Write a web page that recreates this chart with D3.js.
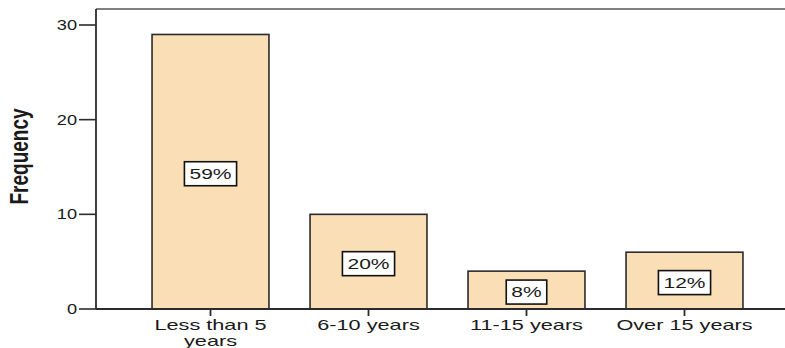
<!DOCTYPE html>
<html>
<head>
<meta charset="utf-8">
<script src="https://cdn.jsdelivr.net/npm/d3@7"></script>
<style>
  html, body { margin: 0; padding: 0; background: #fff; }
  svg { display: block; }
  text { font-family: "Liberation Sans", Arial, sans-serif; fill: #1a1a1a; }
</style>
</head>
<body>
<svg id="chart" width="785" height="348"></svg>
<script>
// ---- data ----
const categories = ["Less than 5 years", "6-10 years", "11-15 years", "Over 15 years"];
const categoryLines = [["Less than 5", "years"], ["6-10 years"], ["11-15 years"], ["Over 15 years"]];
const frequencies = [29, 10, 4, 6];
const percentLabels = ["59%", "20%", "8%", "12%"];
const yTicks = [0, 10, 20, 30];
const yTitle = "Frequency";

// ---- layout ----
const W = 785, H = 348;
const plotLeft = 96, plotRight = 785, plotTop = 9, plotBottom = 309;
const svg = d3.select("#chart");

const x = d3.scaleBand()
  .domain(categories)
  .range([131.5, 763.5])
  .paddingInner(0.26)
  .paddingOuter(0.13);

const y = d3.scaleLinear().domain([0, 30]).range([plotBottom, 25]);

const stroke = "#2b2b2b";
const stretch = 1.55;

// frame lines (top + left)
svg.append("line").attr("x1", plotLeft).attr("x2", plotRight).attr("y1", plotTop).attr("y2", plotTop)
  .attr("stroke", "#555").attr("stroke-width", 1.6);
svg.append("line").attr("x1", plotLeft).attr("x2", plotLeft).attr("y1", plotTop).attr("y2", plotBottom)
  .attr("stroke", stroke).attr("stroke-width", 1.8);

// bars
const data = categories.map((c, i) => ({ c, v: frequencies[i], p: percentLabels[i], lines: categoryLines[i] }));

svg.append("g").selectAll("rect").data(data).join("rect")
  .attr("x", d => x(d.c))
  .attr("y", d => y(d.v))
  .attr("width", x.bandwidth())
  .attr("height", d => y(0) - y(d.v))
  .attr("fill", "#f9deb6")
  .attr("stroke", stroke)
  .attr("stroke-width", 1.6);

// bottom axis line
svg.append("line").attr("x1", plotLeft).attr("x2", plotRight).attr("y1", plotBottom).attr("y2", plotBottom)
  .attr("stroke", stroke).attr("stroke-width", 1.8);

// y ticks
const yg = svg.append("g");
yg.selectAll("line").data(yTicks).join("line")
  .attr("x1", 79).attr("x2", plotLeft)
  .attr("y1", d => y(d)).attr("y2", d => y(d))
  .attr("stroke", stroke).attr("stroke-width", 1.6);
yg.selectAll("text").data(yTicks).join("text")
  .attr("transform", d => `translate(77,${y(d) + 5}) scale(1.3,1)`)
  .attr("text-anchor", "end")
  .attr("font-size", 14)
  .text(d => d);

// x ticks and labels
const xg = svg.append("g");
xg.selectAll("line").data(data).join("line")
  .attr("x1", d => x(d.c) + x.bandwidth() / 2).attr("x2", d => x(d.c) + x.bandwidth() / 2)
  .attr("y1", plotBottom).attr("y2", plotBottom + 7)
  .attr("stroke", stroke).attr("stroke-width", 1.8);
data.forEach(d => {
  const cx = x(d.c) + x.bandwidth() / 2;
  d.lines.forEach((ln, j) => {
    xg.append("text")
      .attr("transform", `translate(${cx},${330 + j * 16}) scale(${stretch},1)`)
      .attr("text-anchor", "middle")
      .attr("font-size", 14)
      .text(ln);
  });
});

// percent label boxes
const lg = svg.append("g");
data.forEach(d => {
  const cx = x(d.c) + x.bandwidth() / 2;
  const cy = (y(d.v) + y(0)) / 2 + 2;
  const g = lg.append("g").attr("transform", `translate(${cx},${cy})`);
  const rect = g.append("rect").attr("fill", "#fff").attr("stroke", "#111").attr("stroke-width", 1.6);
  const t = g.append("text")
    .attr("transform", `translate(0,5) scale(1.5,1)`)
    .attr("text-anchor", "middle")
    .attr("font-size", 14)
    .text(d.p);
  const bw = t.node().getBBox().width * 1.5 + 10;
  const bh = 24;
  rect.attr("x", -bw / 2).attr("y", -bh / 2).attr("width", bw).attr("height", bh);
});

// y title
svg.append("text")
  .attr("transform", "translate(28,156.5) rotate(-90) scale(1,1.4)")
  .attr("text-anchor", "middle")
  .attr("font-size", 19)
  .attr("font-weight", "bold")
  .text(yTitle);
</script>
</body>
</html>
